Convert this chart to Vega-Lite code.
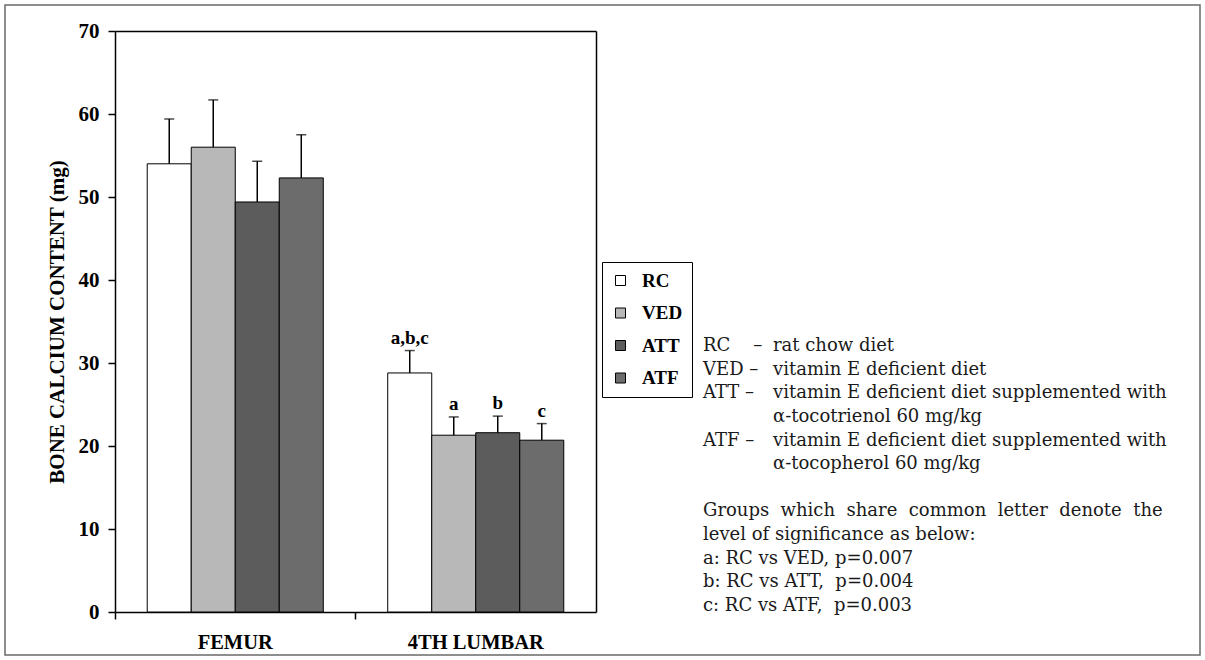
{
  "$schema": "https://vega.github.io/schema/vega-lite/v6.json",
  "width": 1195,
  "height": 650,
  "padding": 5,
  "autosize": "none",
  "background": "white",
  "config": {
    "view": {"stroke": "#6a6a6a", "strokeWidth": 1.5},
    "axis": {"grid": false, "domainColor": "black", "tickColor": "black", "labelColor": "black", "titleColor": "black", "labelFont": "Liberation Serif", "titleFont": "Liberation Serif"}
  },
  "datasets": {
    "bars": [
      {"site": "FEMUR", "group": "RC", "mean": 54.0, "upper": 59.4, "sig": ""},
      {"site": "FEMUR", "group": "VED", "mean": 56.0, "upper": 61.7, "sig": ""},
      {"site": "FEMUR", "group": "ATT", "mean": 49.4, "upper": 54.3, "sig": ""},
      {"site": "FEMUR", "group": "ATF", "mean": 52.3, "upper": 57.5, "sig": ""},
      {"site": "4TH LUMBAR", "group": "RC", "mean": 28.8, "upper": 31.5, "sig": "a,b,c"},
      {"site": "4TH LUMBAR", "group": "VED", "mean": 21.3, "upper": 23.5, "sig": "a"},
      {"site": "4TH LUMBAR", "group": "ATT", "mean": 21.6, "upper": 23.6, "sig": "b"},
      {"site": "4TH LUMBAR", "group": "ATF", "mean": 20.7, "upper": 22.7, "sig": "c"}
    ],
    "notes": [
      {"line": 0, "col": "key", "text": "RC\u00a0\u00a0\u00a0\u00a0–"},
      {"line": 0, "col": "desc", "text": "rat chow diet"},
      {"line": 1, "col": "key", "text": "VED –"},
      {"line": 1, "col": "desc", "text": "vitamin E deficient diet"},
      {"line": 2, "col": "key", "text": "ATT –"},
      {"line": 2, "col": "desc", "text": "vitamin E deficient diet supplemented with"},
      {"line": 3, "col": "desc", "text": "α-tocotrienol 60 mg/kg"},
      {"line": 4, "col": "key", "text": "ATF –"},
      {"line": 4, "col": "desc", "text": "vitamin E deficient diet supplemented with"},
      {"line": 5, "col": "desc", "text": "α-tocopherol 60 mg/kg"},
      {"line": 7, "col": "key", "text": "Groups\u00a0\u00a0which\u00a0\u00a0share\u00a0\u00a0common\u00a0\u00a0letter\u00a0\u00a0denote\u00a0\u00a0the"},
      {"line": 8, "col": "key", "text": "level of significance as below:"},
      {"line": 9, "col": "key", "text": "a: RC vs VED, p=0.007"},
      {"line": 10, "col": "key", "text": "b: RC vs ATT,\u00a0\u00a0p=0.004"},
      {"line": 11, "col": "key", "text": "c: RC vs ATF,\u00a0\u00a0p=0.003"}
    ]
  },
  "layer": [
    {
      "data": {"name": "bars"},
      "layer": [
        {
          "mark": {"type": "bar", "stroke": "black", "strokeWidth": 1},
          "encoding": {
            "x": {"field": "site", "type": "nominal", "sort": null,
              "scale": {"domain": ["FEMUR", "4TH LUMBAR"], "range": [110, 591], "paddingInner": 0.268, "paddingOuter": 0.134},
              "axis": {"orient": "bottom", "offset": -43, "title": null, "ticks": false, "tickSize": 0, "domain": true, "domainWidth": 1.5, "labelAngle": 0, "labelFontSize": 20.5, "labelFontWeight": "bold", "labelPadding": 20}},
            "xOffset": {"field": "group", "type": "nominal", "sort": null, "scale": {"domain": ["RC", "VED", "ATT", "ATF"], "paddingInner": 0, "paddingOuter": 0}},
            "y": {"field": "mean", "type": "quantitative",
              "scale": {"domain": [0, 70], "range": [607, 26], "nice": false},
              "axis": {"orient": "left", "offset": -110, "title": "BONE CALCIUM CONTENT (mg)", "titleFontSize": 21, "titleFontWeight": "bold", "titlePadding": 11, "values": [0, 10, 20, 30, 40, 50, 60, 70], "tickSize": 7, "tickWidth": 1.5, "domainWidth": 1.5, "labelFontSize": 21, "labelFontWeight": "bold", "labelPadding": 9}},
            "color": {"field": "group", "type": "nominal", "sort": null,
              "scale": {"domain": ["RC", "VED", "ATT", "ATF"], "range": ["#ffffff", "#b8b8b8", "#5c5c5c", "#6c6c6c"]},
              "legend": {"orient": "none", "legendX": 597, "legendY": 257, "title": null, "strokeColor": "black", "fillColor": "white", "padding": 9, "symbolType": "square", "symbolSize": 100, "symbolStrokeColor": "black", "symbolStrokeWidth": 1, "symbolOpacity": 1, "labelFont": "Liberation Serif", "labelFontWeight": "bold", "labelFontSize": 19, "labelColor": "black", "labelOffset": 12, "rowPadding": 12.5}}
          }
        },
        {
          "mark": {"type": "rule", "stroke": "black", "strokeWidth": 1.5},
          "encoding": {
            "x": {"field": "site", "type": "nominal", "sort": null,
              "scale": {"domain": ["FEMUR", "4TH LUMBAR"], "range": [110, 591], "paddingInner": 0.268, "paddingOuter": 0.134},
              "axis": {"orient": "bottom", "offset": -43, "title": null, "labels": false, "domain": false, "ticks": true, "tickSize": 7, "tickWidth": 1.5, "bandPosition": -0.183}},
            "xOffset": {"field": "group", "type": "nominal", "sort": null, "scale": {"domain": ["RC", "VED", "ATT", "ATF"], "paddingInner": 0, "paddingOuter": 0}},
            "y": {"field": "mean", "type": "quantitative",
              "scale": {"domain": [0, 70], "range": [607, 26], "nice": false},
              "axis": {"orient": "right", "offset": -604, "title": null, "labels": false, "ticks": false, "domain": true, "domainWidth": 1.5}},
            "y2": {"field": "upper"}
          }
        },
        {
          "mark": {"type": "tick", "orient": "horizontal", "color": "black", "size": 10, "thickness": 1.5},
          "encoding": {
            "x": {"field": "site", "type": "nominal", "sort": null,
              "scale": {"domain": ["FEMUR", "4TH LUMBAR"], "range": [110, 591], "paddingInner": 0.268, "paddingOuter": 0.134},
              "axis": {"orient": "top", "offset": -26, "title": null, "labels": false, "ticks": false, "domain": true, "domainWidth": 1.5}},
            "xOffset": {"field": "group", "type": "nominal", "sort": null, "scale": {"domain": ["RC", "VED", "ATT", "ATF"], "paddingInner": 0, "paddingOuter": 0}},
            "y": {"field": "upper", "type": "quantitative", "scale": {"domain": [0, 70], "range": [607, 26], "nice": false}, "axis": null}
          }
        },
        {
          "mark": {"type": "text", "font": "Liberation Serif", "fontWeight": "bold", "fontSize": 19, "color": "black", "baseline": "alphabetic", "dy": -7},
          "encoding": {
            "x": {"field": "site", "type": "nominal", "sort": null,
              "scale": {"domain": ["FEMUR", "4TH LUMBAR"], "range": [110, 591], "paddingInner": 0.268, "paddingOuter": 0.134}, "axis": null},
            "xOffset": {"field": "group", "type": "nominal", "sort": null, "scale": {"domain": ["RC", "VED", "ATT", "ATF"], "paddingInner": 0, "paddingOuter": 0}},
            "y": {"field": "upper", "type": "quantitative", "scale": {"domain": [0, 70], "range": [607, 26], "nice": false}, "axis": null},
            "text": {"field": "sig"}
          }
        }
      ],
      "resolve": {"axis": {"x": "independent", "y": "independent"}}
    },
    {
      "data": {"name": "notes"},
      "mark": {"type": "text", "font": "DejaVu Serif", "fontSize": 18, "color": "#1a1a1a", "align": "left", "baseline": "middle"},
      "encoding": {
        "x": {"field": "col", "type": "nominal", "scale": {"type": "point", "domain": ["key", "desc"], "range": [698, 768], "padding": 0}, "axis": null},
        "y": {"field": "line", "type": "quantitative", "scale": {"domain": [0, 11], "range": [341, 601], "nice": false, "zero": false}, "axis": null},
        "text": {"field": "text"}
      }
    }
  ],
  "resolve": {"scale": {"x": "independent", "y": "independent"}}
}
